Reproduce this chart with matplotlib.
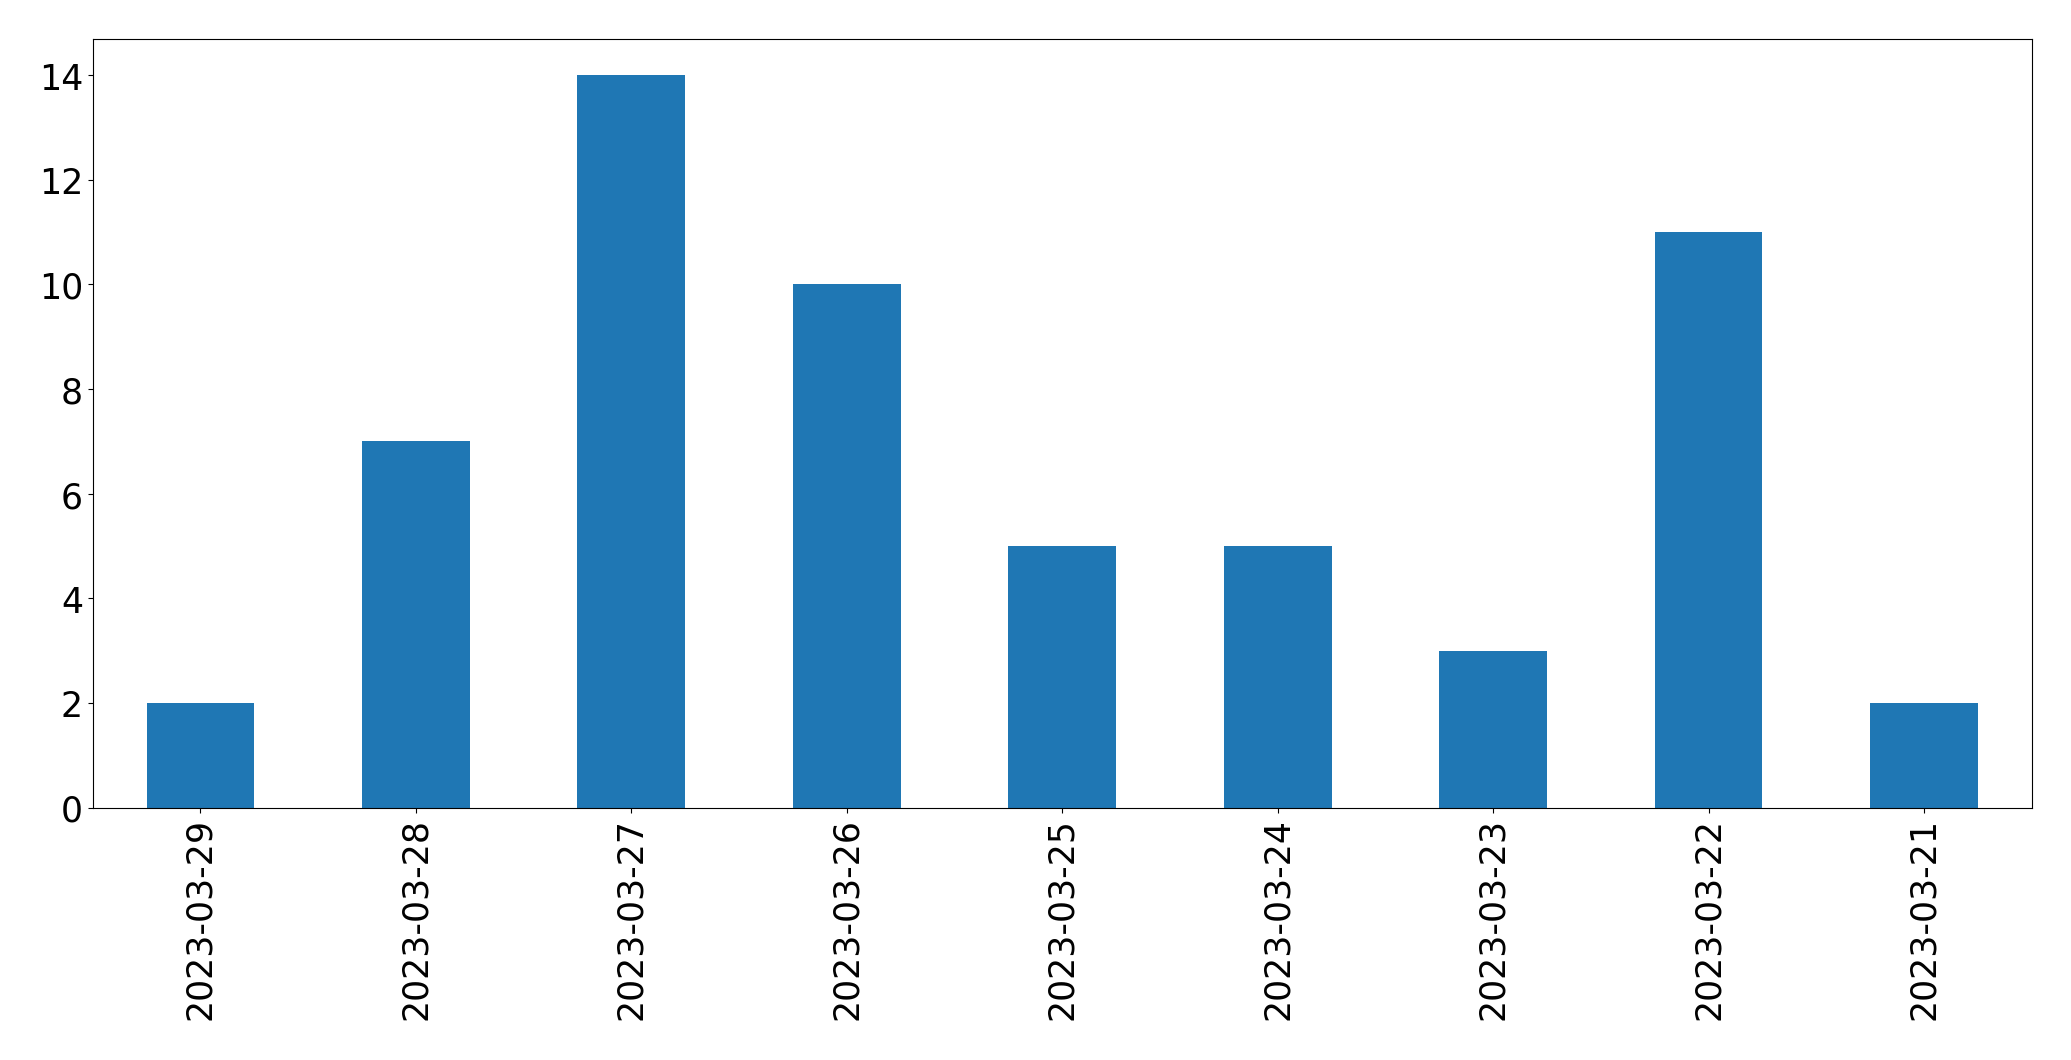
import matplotlib
matplotlib.use("Agg")
import matplotlib.pyplot as plt

dates = ["2023-03-29", "2023-03-28", "2023-03-27", "2023-03-26", "2023-03-25",
         "2023-03-24", "2023-03-23", "2023-03-22", "2023-03-21"]
counts = [2, 7, 14, 10, 5, 5, 3, 11, 2]

fig = plt.figure(figsize=(20.71, 10.609), dpi=100)
ax = fig.add_axes([0.0448, 0.238, 0.9362, 0.7247])
x = range(len(dates))
ax.bar(x, counts, width=0.5, color="#1f77b4")
ax.set_xticks(list(x))
ax.set_xticklabels(dates, rotation=90)
ax.set_xlim(-0.5, len(dates) - 0.5)
ax.set_ylim(0, 14.7)
ax.set_yticks([0, 2, 4, 6, 8, 10, 12, 14])
ax.tick_params(labelsize=25)
fig.savefig("out.png", dpi=100)
